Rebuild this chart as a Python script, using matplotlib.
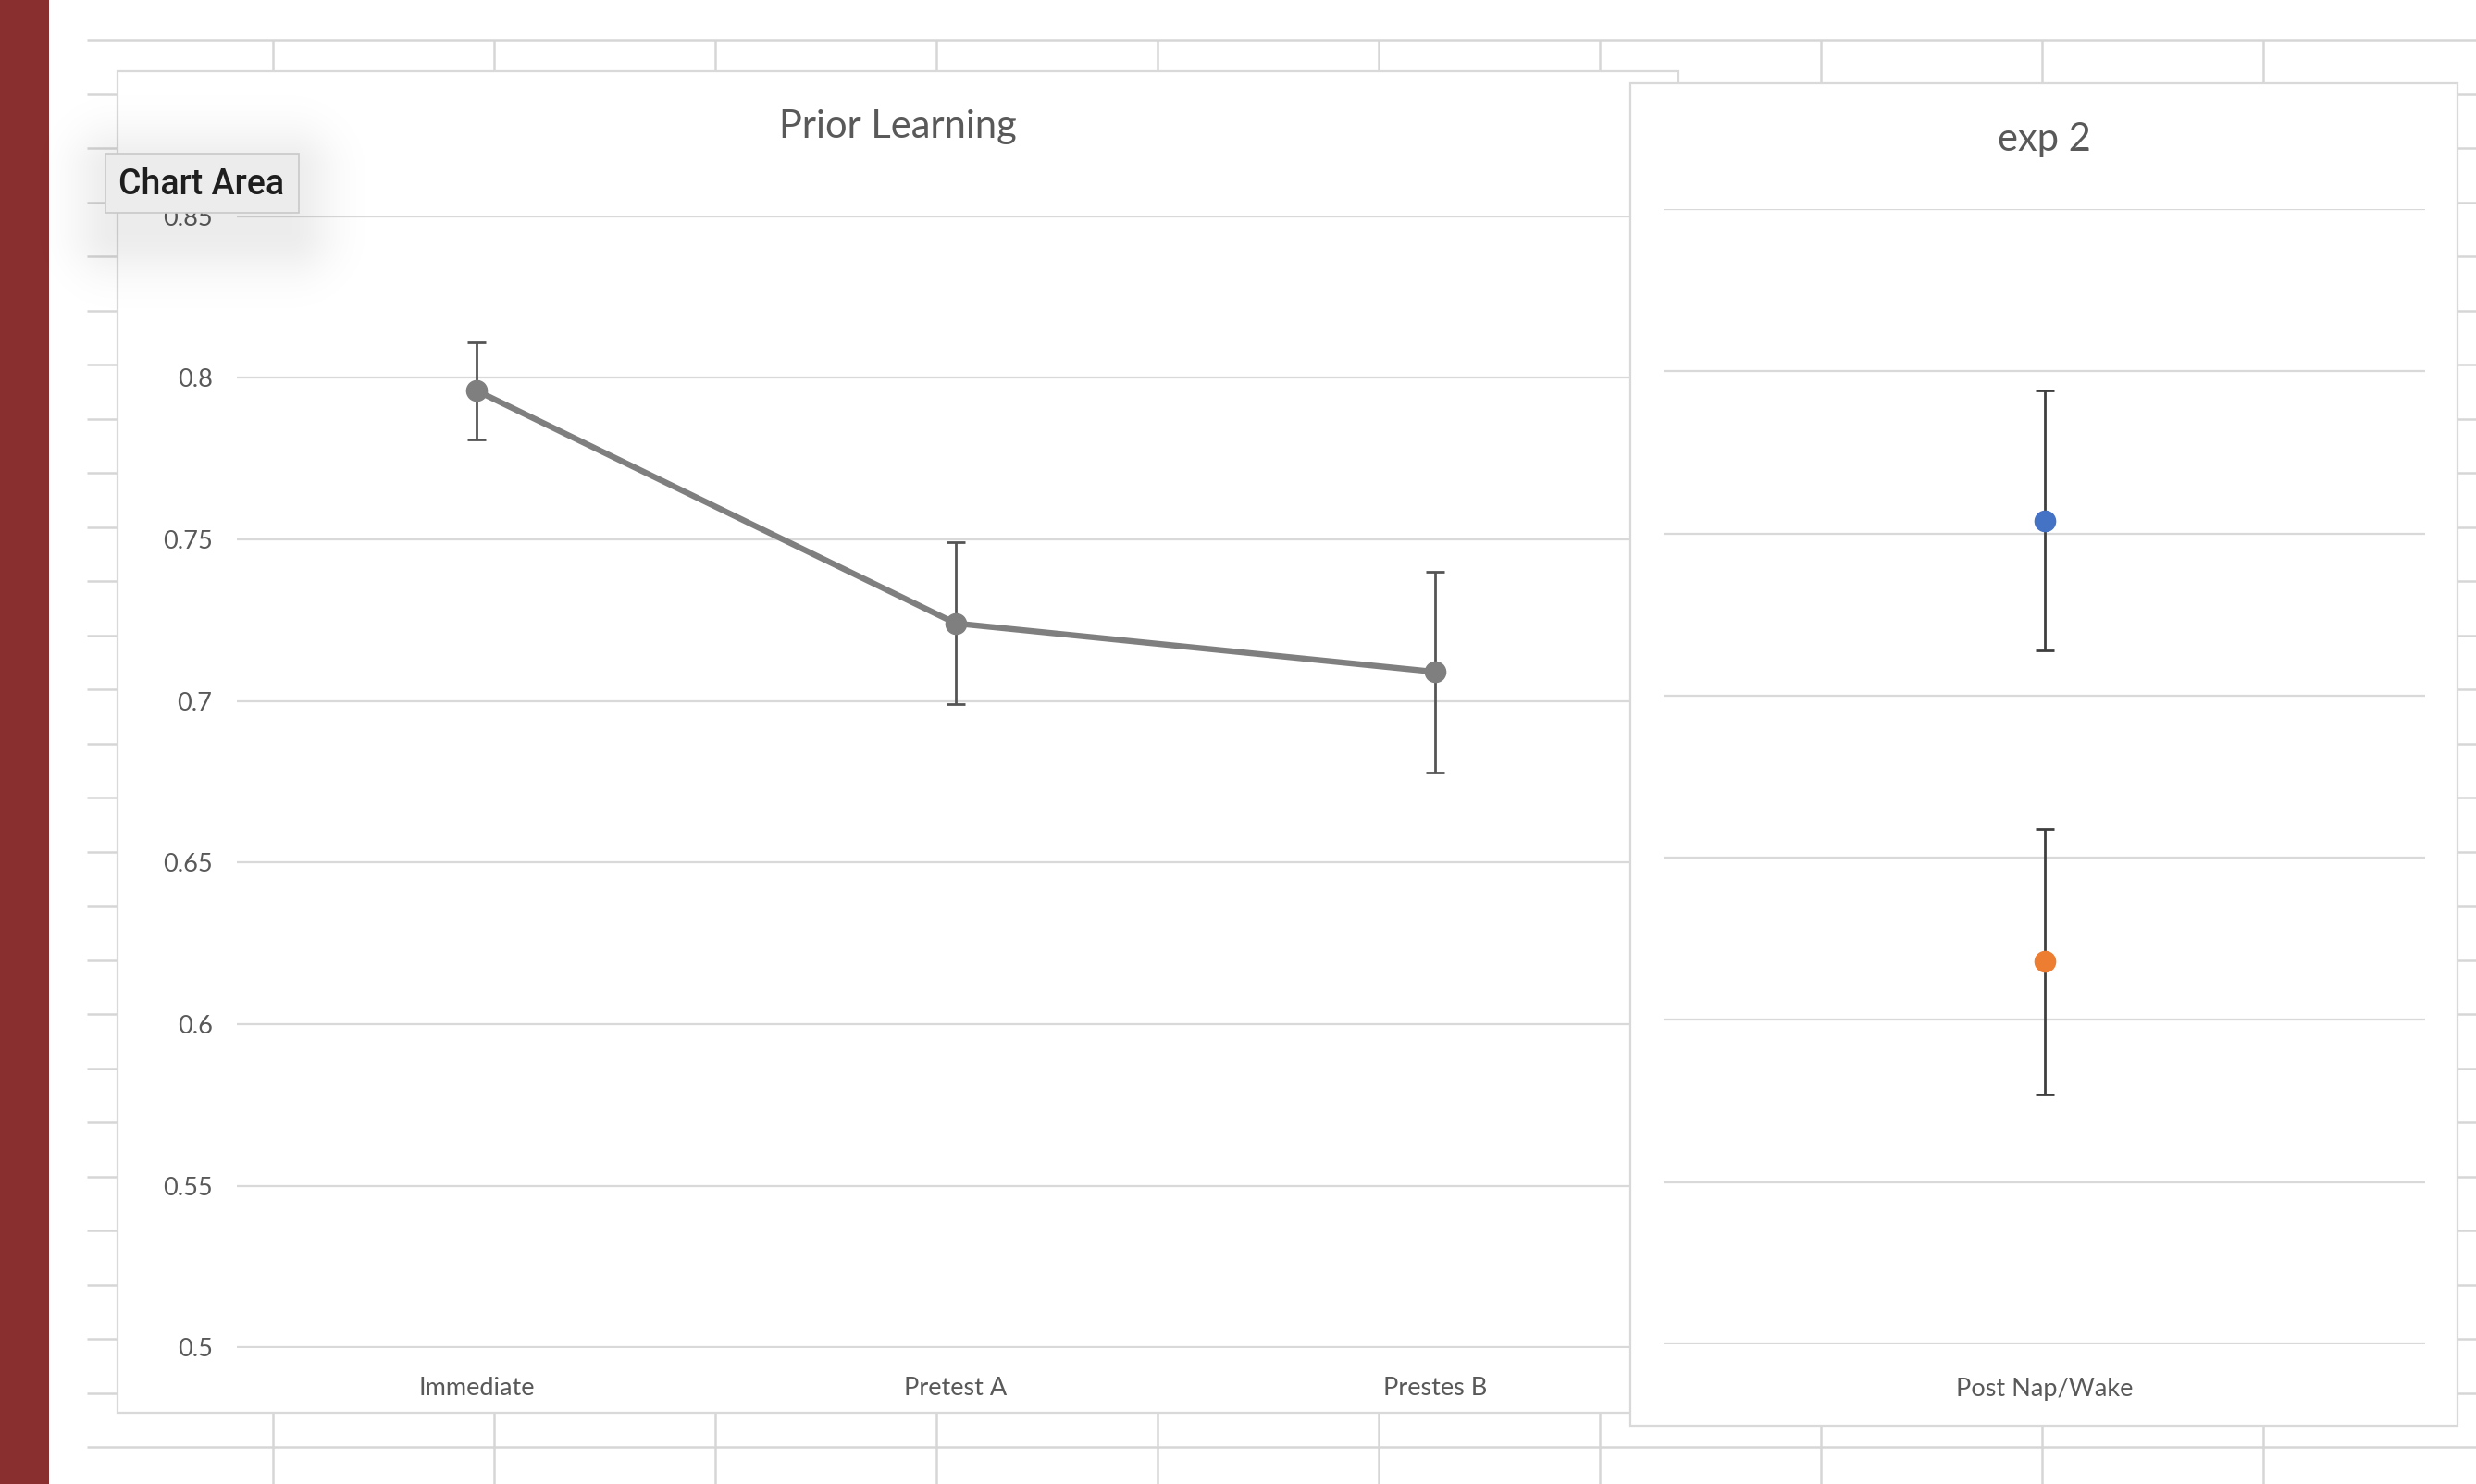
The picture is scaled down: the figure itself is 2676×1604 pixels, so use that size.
import matplotlib
matplotlib.use('Agg')
import matplotlib.pyplot as plt
import numpy as np
from matplotlib.patches import Rectangle

W, H = 2676, 1604

# values
prior_labels = ['Immediate', 'Pretest A', 'Prestes B']
prior_means = [0.796, 0.724, 0.709]
prior_err = [0.015, 0.025, 0.031]

exp2_label = ['Post Nap/Wake']
exp2_names = ['Nap', 'Wake']
exp2_means = [0.754, 0.618]
exp2_err = [0.040, 0.041]
exp2_colors = ['#4472C4', '#ED7D31']

yticks = [0.5, 0.55, 0.6, 0.65, 0.7, 0.75, 0.8, 0.85]
ytick_labels = ['0.5', '0.55', '0.6', '0.65', '0.7', '0.75', '0.8', '0.85']

LABEL_FONT = ['Lato', 'DejaVu Sans']
TITLE_FONT = ['Lato', 'DejaVu Sans']
GRID = '#D9D9D9'
TXT = '#595959'

fig = plt.figure(figsize=(W / 100, H / 100), dpi=100)
fig.patch.set_facecolor('white')


def layer(z, name):
    # full-figure axes working in pixel coordinates (y down)
    a = fig.add_axes([0, 0, 1, 1], zorder=z, label=name)
    a.set_xlim(0, W)
    a.set_ylim(H, 0)
    a.axis('off')
    a.patch.set_alpha(0)
    return a


def px_axes(x0, y0, x1, y1, z, name):
    return fig.add_axes([x0 / W, 1 - y1 / H, (x1 - x0) / W, (y1 - y0) / H],
                        zorder=z, label=name)


def style_axes(a, xpad):
    a.set_ylim(0.5, 0.85)
    a.set_yticks(yticks)
    a.grid(axis='y', color=GRID, lw=1.6)
    a.set_axisbelow(True)
    for s in a.spines.values():
        s.set_visible(False)
    a.patch.set_alpha(0)
    a.tick_params(length=0, labelsize=19.5, labelcolor=TXT)
    a.tick_params(axis='y', pad=19)
    a.tick_params(axis='x', pad=xpad)


# --- spreadsheet background -----------------------------------------
bg = layer(1, 'bg')
for k in range(27):
    y = 43 + 58.5 * k
    bg.plot([94, W], [y, y], color='#D6D6D6', lw=1.8, solid_capstyle='butt', zorder=1)
for k in range(11):
    x = 295 + 239 * k
    bg.plot([x, x], [43, H], color='#D6D6D6', lw=1.8, solid_capstyle='butt', zorder=1)
bg.add_patch(Rectangle((0, 0), 53, H, fc='#8A2F2F', ec='none', zorder=2))

# left chart area
bg.add_patch(Rectangle((127, 77), 1814 - 127, 1527 - 77, fc='white', ec=GRID,
                       lw=1.6, zorder=3))
bg.text(970, 149, 'Prior Learning', ha='center', va='baseline', fontsize=30,
        color=TXT, family=TITLE_FONT, zorder=4)

# --- left plot ------------------------------------------------------------
ax1 = px_axes(256, 233.5, 1810, 1456.5, 2, 'prior')
style_axes(ax1, 23)
ax1.set_xlim(-0.5, 2.5)
xs = np.arange(len(prior_labels))
ax1.errorbar(xs, prior_means, yerr=prior_err, fmt='-o', color='#7F7F7F', lw=4.6,
             ms=16, ecolor='#555555', elinewidth=2.0, capsize=7, capthick=2.0)
ax1.set_yticklabels(ytick_labels)
ax1.set_xticks(xs, prior_labels)
for lab in ax1.get_xticklabels() + ax1.get_yticklabels():
    lab.set_family(LABEL_FONT)

# --- right chart area -----------------------------------------------------
mid = layer(3, 'mid')
mid.add_patch(Rectangle((1762, 90), 2656 - 1762, 1541 - 90, fc='white', ec=GRID, lw=1.6))
mid.text(2209, 163, 'exp 2', ha='center', va='baseline', fontsize=30,
         color=TXT, family=TITLE_FONT)

ax2 = px_axes(1798, 226, 2621, 1453, 4, 'exp2')
style_axes(ax2, 26)
ax2.set_xlim(-0.5, 0.5)
for m, e, c, n in zip(exp2_means, exp2_err, exp2_colors, exp2_names):
    ax2.errorbar([0], [m], yerr=[e], fmt='o', color=c, ms=16, ecolor='#3F3F3F',
                 elinewidth=2.0, capsize=7, capthick=2.0, label=n)
ax2.tick_params(axis='y', labelleft=False)
ax2.set_xticks([0], exp2_label)
for lab in ax2.get_xticklabels():
    lab.set_family(LABEL_FONT)

# --- "Chart Area" tooltip with soft shadow --------------------------------
ov = layer(5, 'overlay')
gx0, gx1, gy0, gy1 = 40, 440, 60, 360
xx, yy = np.meshgrid(np.arange(gx0, gx1), np.arange(gy0, gy1))
dx = np.maximum(np.maximum(125 - xx, xx - 312), 0)
dy = np.maximum(np.maximum(185 - yy, yy - 250), 0)
d = np.hypot(dx, dy)
img = np.zeros(xx.shape + (4,))
img[..., 3] = 0.075 * np.exp(-(d / 48.0) ** 2)
ov.imshow(img, extent=(gx0, gx1, gy1, gy0), interpolation='bilinear', aspect='auto')
ov.set_xlim(0, W)
ov.set_ylim(H, 0)
ov.add_patch(Rectangle((114, 166), 209, 64, fc='#ECECEC', ec='#C9C9C9', lw=1.2))
ov.text(218, 199, 'Chart Area', ha='center', va='center', fontsize=27,
        color='#1E1E1E', family=['Roboto', 'DejaVu Sans'], weight='medium')

fig.savefig('out.png', dpi=100)
